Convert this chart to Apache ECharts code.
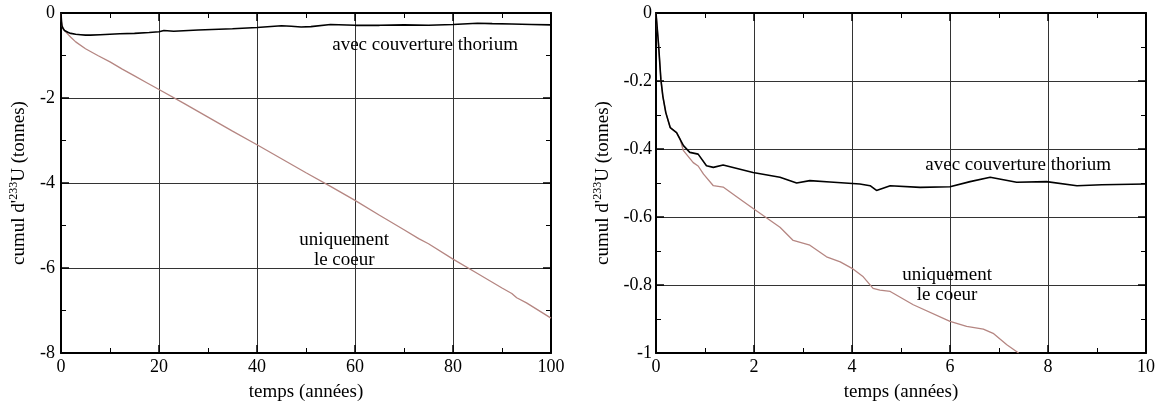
<!DOCTYPE html>
<html>
<head>
<meta charset="utf-8">
<script src="https://cdn.jsdelivr.net/npm/echarts@6/dist/echarts.min.js"></script>
<style>
html,body{margin:0;padding:0;background:#fff;}
#chart{width:1159px;height:407px;}
</style>
</head>
<body>
<div id="chart"></div>
<script>
// ---- Data ----
// Left panel: 0-100 years
const leftThoriumT = [0, 0.1, 0.2, 0.4, 0.7, 1, 1.5, 2, 3, 4, 5, 6, 8, 10, 12, 15, 18, 20, 21, 23, 28, 35, 40, 45, 47, 49, 51, 55, 60, 65, 70, 75, 80, 85, 88, 92, 96, 100];
const leftThoriumV = [0, -0.2, -0.3, -0.36, -0.41, -0.43, -0.46, -0.48, -0.5, -0.51, -0.52, -0.52, -0.51, -0.5, -0.49, -0.48, -0.46, -0.44, -0.41, -0.43, -0.40, -0.37, -0.34, -0.30, -0.31, -0.33, -0.32, -0.27, -0.29, -0.29, -0.28, -0.29, -0.27, -0.24, -0.25, -0.26, -0.27, -0.28];
const leftCoreT = [0, 0.1, 0.2, 0.4, 0.5, 1, 2, 3, 5, 7.5, 10, 12.5, 15, 17.5, 20, 25, 30, 35, 40, 45, 50, 55, 60, 65, 70, 73, 75, 80, 85, 90, 92, 93, 95, 100];
const leftCoreV = [0, -0.2, -0.3, -0.36, -0.38, -0.45, -0.57, -0.68, -0.84, -1.0, -1.15, -1.32, -1.48, -1.64, -1.80, -2.12, -2.45, -2.78, -3.10, -3.43, -3.76, -4.08, -4.41, -4.76, -5.10, -5.31, -5.43, -5.79, -6.13, -6.47, -6.60, -6.70, -6.82, -7.18];
// Right panel: 0-10 years
const rightThoriumT = [0, 0.05, 0.1, 0.14, 0.2, 0.29, 0.42, 0.56, 0.69, 0.86, 1.03, 1.17, 1.37, 1.98, 2.53, 2.87, 3.14, 3.55, 4.16, 4.37, 4.5, 4.78, 5.39, 6.0, 6.41, 6.82, 7.36, 7.97, 8.59, 9.1, 10];
const rightThoriumV = [0, -0.089, -0.196, -0.245, -0.293, -0.337, -0.352, -0.39, -0.41, -0.415, -0.449, -0.454, -0.447, -0.469, -0.483, -0.5, -0.493, -0.497, -0.503, -0.508, -0.522, -0.508, -0.513, -0.511, -0.496, -0.483, -0.498, -0.496, -0.508, -0.505, -0.503];
const rightCoreT = [0, 0.05, 0.1, 0.14, 0.2, 0.29, 0.42, 0.49, 0.56, 0.76, 0.86, 0.97, 1.17, 1.37, 1.71, 1.99, 2.53, 2.8, 3.14, 3.48, 3.76, 4.0, 4.23, 4.43, 4.57, 4.78, 5.25, 6.0, 6.34, 6.68, 6.88, 7.16, 7.4];
const rightCoreV = [0, -0.089, -0.196, -0.245, -0.293, -0.337, -0.352, -0.371, -0.405, -0.44, -0.45, -0.474, -0.508, -0.512, -0.547, -0.576, -0.63, -0.669, -0.683, -0.717, -0.732, -0.751, -0.776, -0.81, -0.815, -0.819, -0.858, -0.907, -0.922, -0.93, -0.942, -0.976, -1.0];

// Axis ranges / tick steps
const leftX = {min: 0, max: 100, interval: 20};
const leftY = {min: -8, max: 0, interval: 2};
const rightX = {min: 0, max: 10, interval: 2};
const rightY = {min: -1, max: 0, interval: 0.2};

// Texts
const xTitle = 'temps (années)';
const yTitle = "{n|cumul d'}{sup|233}{n|U (tonnes)}";
const labelThorium = 'avec couverture thorium';
const labelCore = 'uniquement\nle coeur';
// annotation anchor positions in data units [time, value]
const leftThoriumLabelAt = [74.3, -0.75];
const leftCoreLabelAt = [57.8, -5.57];
const rightThoriumLabelAt = [7.39, -0.447];
const rightCoreLabelAt = [5.94, -0.80];

const zip = (a, b) => a.map((t, i) => [t, b[i]]);

const FONT = 'Liberation Serif';
const BLACK = '#000';
const CORE = '#b58682';
const GRIDC = '#333';

function xAxes(gridIndex, r) {
  return [
    {
      type: 'value', gridIndex, position: 'bottom', min: r.min, max: r.max, interval: r.interval,
      name: xTitle, nameLocation: 'middle', nameGap: 30,
      nameTextStyle: {fontFamily: FONT, fontSize: 19, color: BLACK},
      axisLine: {show: true, onZero: false, lineStyle: {color: BLACK, width: 2}},
      axisTick: {show: true, inside: true, length: 8, lineStyle: {color: BLACK, width: 1.5}},
      minorTick: {show: true, splitNumber: 2, length: 5, lineStyle: {color: BLACK, width: 1}},
      axisLabel: {show: true, margin: 5, fontFamily: FONT, fontSize: 18, color: BLACK},
      splitLine: {show: true, lineStyle: {color: GRIDC, width: 1}},
      minorSplitLine: {show: false}
    },
    {
      type: 'value', gridIndex, position: 'top', min: r.min, max: r.max, interval: r.interval,
      axisLine: {show: true, onZero: false, lineStyle: {color: BLACK, width: 2}},
      axisTick: {show: true, inside: true, length: 8, lineStyle: {color: BLACK, width: 1.5}},
      minorTick: {show: true, splitNumber: 2, length: 5, lineStyle: {color: BLACK, width: 1}},
      axisLabel: {show: false},
      splitLine: {show: false}
    }
  ];
}
function yAxes(gridIndex, r, nameGap, margin) {
  return [
    {
      type: 'value', gridIndex, position: 'left', min: r.min, max: r.max, interval: r.interval,
      name: yTitle, nameLocation: 'middle', nameGap: nameGap, nameRotate: 90,
      nameTextStyle: {
        fontFamily: FONT, fontSize: 19, color: BLACK,
        rich: {
          n: {fontFamily: FONT, fontSize: 19, color: BLACK, lineHeight: 22},
          sup: {fontFamily: FONT, fontSize: 12, color: BLACK, lineHeight: 22, verticalAlign: 'top'}
        }
      },
      axisLine: {show: true, onZero: false, lineStyle: {color: BLACK, width: 2}},
      axisTick: {show: true, inside: true, length: 8, lineStyle: {color: BLACK, width: 1.5}},
      minorTick: {show: true, splitNumber: 2, length: 5, lineStyle: {color: BLACK, width: 1}},
      axisLabel: {show: true, margin: margin, fontFamily: FONT, fontSize: 18, color: BLACK},
      splitLine: {show: true, lineStyle: {color: GRIDC, width: 1}},
      minorSplitLine: {show: false}
    },
    {
      type: 'value', gridIndex, position: 'right', min: r.min, max: r.max, interval: r.interval,
      axisLine: {show: true, onZero: false, lineStyle: {color: BLACK, width: 2}},
      axisTick: {show: true, inside: true, length: 8, lineStyle: {color: BLACK, width: 1.5}},
      minorTick: {show: true, splitNumber: 2, length: 5, lineStyle: {color: BLACK, width: 1}},
      axisLabel: {show: false},
      splitLine: {show: false}
    }
  ];
}

function annot(coord, text) {
  return {
    coord: coord, symbol: 'circle', symbolSize: 0,
    label: {show: true, position: 'inside', formatter: text, fontFamily: FONT, fontSize: 19,
            color: BLACK, lineHeight: 20, align: 'center', verticalAlign: 'middle'}
  };
}

function lineSeries(xi, yi, data, color, width, marks) {
  return {
    type: 'line', xAxisIndex: xi, yAxisIndex: yi, data: data, showSymbol: false, symbol: 'none',
    lineStyle: {color: color, width: width}, clip: true, animation: false, silent: true,
    markPoint: marks ? {symbol: 'circle', symbolSize: 0, animation: false, silent: true, data: marks} : undefined
  };
}

const chart = echarts.init(document.getElementById('chart'), null, {renderer: 'canvas'});
chart.setOption({
  animation: false,
  backgroundColor: '#fff',
  grid: [
    {left: 61, top: 13, width: 490, height: 342},
    {left: 656, top: 13, width: 490, height: 342}
  ],
  xAxis: [...xAxes(0, leftX), ...xAxes(1, rightX)],
  yAxis: [...yAxes(0, leftY, 31, 6), ...yAxes(1, rightY, 42, 4)],
  series: [
    lineSeries(0, 0, zip(leftCoreT, leftCoreV), CORE, 1.3, [annot(leftCoreLabelAt, labelCore)]),
    lineSeries(0, 0, zip(leftThoriumT, leftThoriumV), BLACK, 1.6, [annot(leftThoriumLabelAt, labelThorium)]),
    lineSeries(2, 2, zip(rightCoreT, rightCoreV), CORE, 1.3, [annot(rightCoreLabelAt, labelCore)]),
    lineSeries(2, 2, zip(rightThoriumT, rightThoriumV), BLACK, 1.6, [annot(rightThoriumLabelAt, labelThorium)])
  ]
});
</script>
</body>
</html>
